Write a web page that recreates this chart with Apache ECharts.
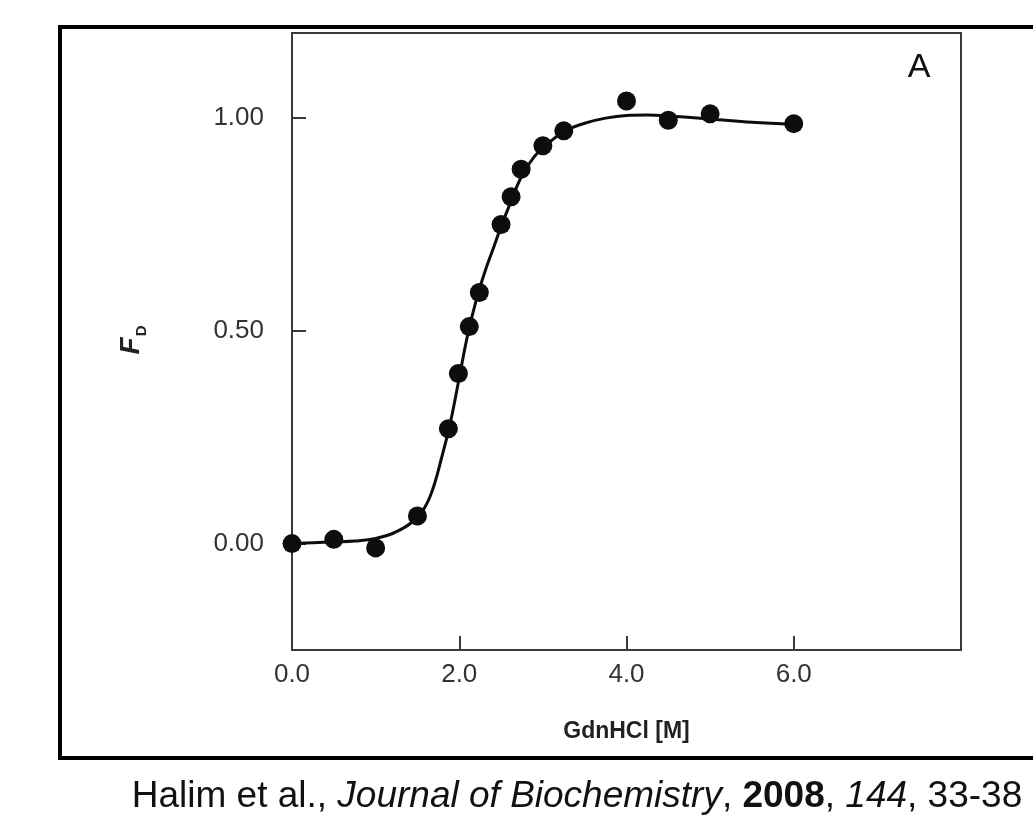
<!DOCTYPE html>
<html>
<head>
<meta charset="utf-8">
<title>GdnHCl denaturation curve</title>
<script src="https://cdn.jsdelivr.net/npm/echarts@6/dist/echarts.min.js"></script>
<style>
  html, body { margin: 0; padding: 0; background: #fff; }
  #chart { width: 1033px; height: 815px; }
</style>
</head>
<body>
<div id="chart"></div>
<script>
// Measured fraction denatured (F_D) vs. GdnHCl concentration
const concM = [0, 0.5, 1.0, 1.5, 1.87, 1.99, 2.12, 2.24, 2.5, 2.62, 2.74, 3.0, 3.25, 4.0, 4.5, 5.0, 6.0];
const fracD = [0.00, 0.01, -0.01, 0.065, 0.27, 0.40, 0.51, 0.59, 0.75, 0.815, 0.88, 0.935, 0.97, 1.04, 0.995, 1.01, 0.987];

// Fitted transition curve
const fitX = [0, 0.25, 0.5, 0.75, 1.0, 1.25, 1.5, 1.65, 1.8, 1.9, 2.0, 2.1, 2.2, 2.3, 2.4, 2.5, 2.6, 2.75, 2.9, 3.0, 3.25, 3.5, 3.75, 4.0, 4.25, 4.5, 5.0, 5.5, 6.0];
const fitY = [0.000, 0.002, 0.004, 0.006, 0.012, 0.028, 0.062, 0.11, 0.21, 0.29, 0.39, 0.49, 0.57, 0.635, 0.69, 0.745, 0.795, 0.865, 0.91, 0.93, 0.968, 0.988, 1.000, 1.006, 1.007, 1.005, 0.998, 0.99, 0.985];

// Axis ticks
const xTicks = [0, 2, 4, 6];
const yTicks = [0, 0.5, 1.0];

const chart = echarts.init(document.getElementById('chart'), null, { renderer: 'canvas' });

const axisGray = '#3a3a3a';
const labelGray = '#333';

chart.setOption({
  animation: false,
  backgroundColor: '#fff',
  grid: {
    left: 292, top: 33, width: 669, height: 617,
    show: true, borderColor: axisGray, borderWidth: 2, backgroundColor: 'transparent'
  },
  xAxis: {
    type: 'value', min: 0, max: 8, interval: 2,
    name: 'GdnHCl [M]', nameLocation: 'middle', nameGap: 70,
    nameTextStyle: { fontFamily: 'Liberation Sans', fontWeight: 'bold', fontSize: 23, color: '#222' },
    axisLine: { show: true, onZero: false, lineStyle: { color: axisGray, width: 2 } },
    axisTick: { show: true, inside: true, length: 14, customValues: xTicks, lineStyle: { color: axisGray, width: 2 } },
    axisLabel: {
      customValues: xTicks, margin: 12,
      fontFamily: 'Liberation Sans', fontSize: 26, color: labelGray,
      formatter: v => v.toFixed(1)
    },
    splitLine: { show: false }
  },
  yAxis: {
    type: 'value', min: -0.25, max: 1.2,
    axisLine: { show: true, onZero: false, lineStyle: { color: axisGray, width: 2 } },
    axisTick: { show: true, inside: true, length: 14, customValues: yTicks, lineStyle: { color: axisGray, width: 2 } },
    axisLabel: {
      customValues: yTicks, margin: 28,
      fontFamily: 'Liberation Sans', fontSize: 26, color: labelGray,
      formatter: v => v.toFixed(2)
    },
    splitLine: { show: false }
  },
  series: [
    {
      type: 'line', name: 'fit',
      data: fitX.map((x, i) => [x, fitY[i]]),
      smooth: 0.4, showSymbol: false,
      lineStyle: { color: '#0d0d0d', width: 3 },
      z: 2
    },
    {
      type: 'scatter', name: 'data',
      data: concM.map((x, i) => [x, fracD[i]]),
      symbol: 'circle', symbolSize: 19,
      itemStyle: { color: '#0d0d0d', opacity: 1 },
      z: 3
    }
  ],
  graphic: [
    {
      type: 'rect', silent: true, z: 0,
      shape: { x: 60, y: 27, width: 1000, height: 731 },
      style: { fill: 'none', stroke: '#000', lineWidth: 4 }
    },
    {
      type: 'text', x: 919, y: 68, z: 5,
      style: { text: 'A', fontFamily: 'Liberation Sans', fontSize: 34, fill: '#111', align: 'center', verticalAlign: 'middle' }
    },
    {
      type: 'text', x: 130, y: 340, rotation: Math.PI / 2, z: 5,
      style: {
        text: '{f|F}{d|D}',
        align: 'center', verticalAlign: 'middle',
        rich: {
          f: { fontFamily: 'Liberation Sans', fontStyle: 'italic', fontWeight: 'bold', fontSize: 28, fill: '#222', lineHeight: 30, verticalAlign: 'bottom' },
          d: { fontFamily: 'Liberation Sans', fontWeight: 'bold', fontSize: 15, fill: '#222', lineHeight: 30, verticalAlign: 'bottom', padding: [0, 0, -4, 1] }
        }
      }
    },
    {
      type: 'text', x: 577, y: 797, z: 5,
      style: {
        text: 'Halim et al., {i|Journal of Biochemistry}, {b|2008}, {i|144}, 33-38',
        align: 'center', verticalAlign: 'middle',
        fontFamily: 'Liberation Sans', fontSize: 37, fill: '#111',
        rich: {
          i: { fontFamily: 'Liberation Sans', fontStyle: 'italic', fontSize: 37, fill: '#111' },
          b: { fontFamily: 'Liberation Sans', fontWeight: 'bold', fontSize: 37, fill: '#111' }
        }
      }
    }
  ]
});
</script>
</body>
</html>
